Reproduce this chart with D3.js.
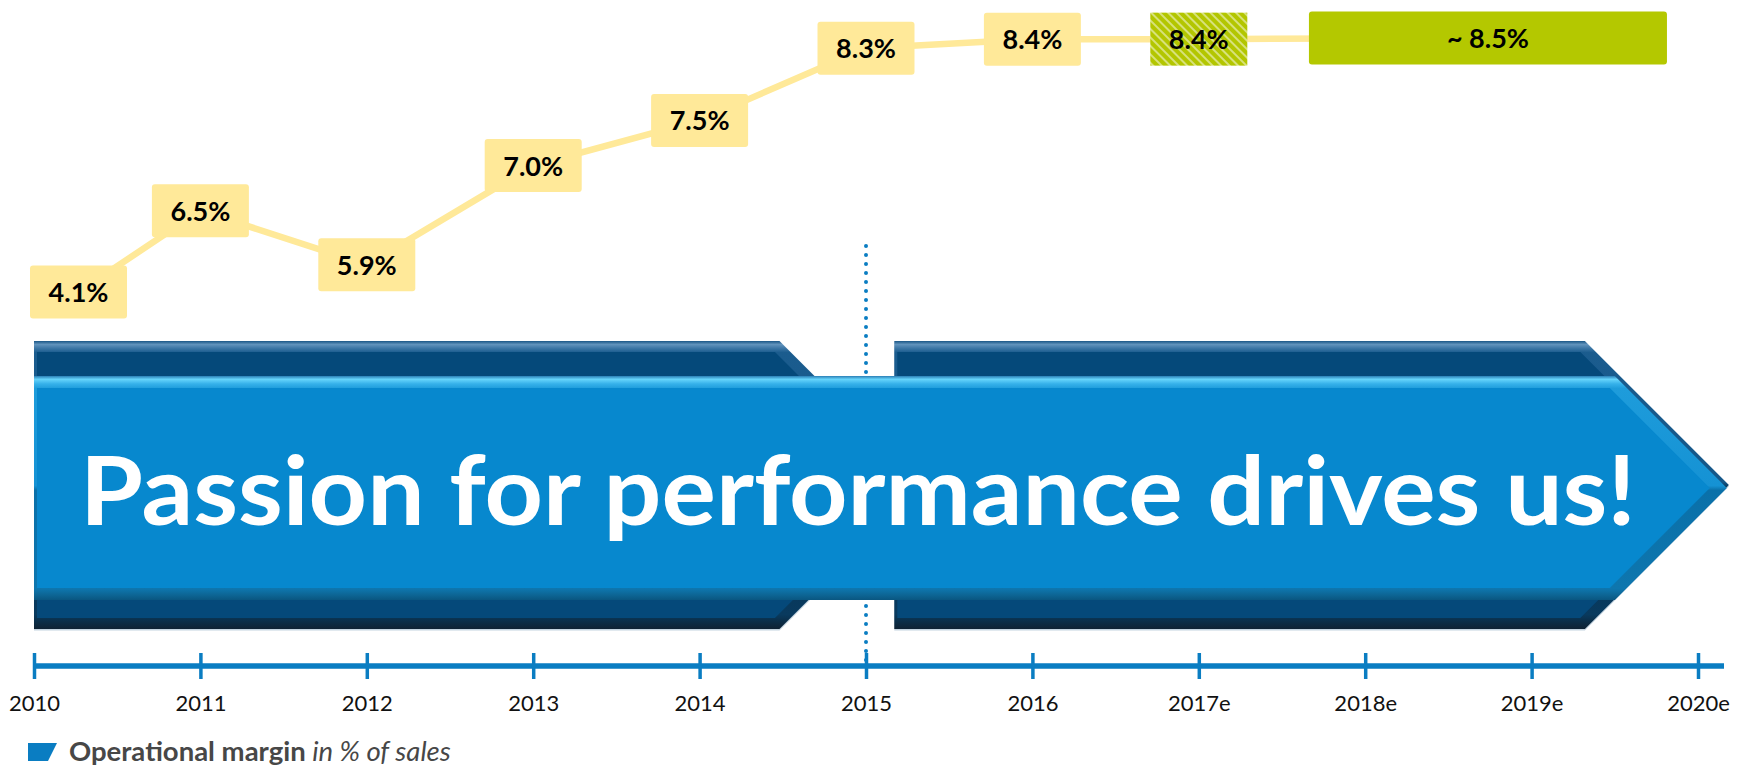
<!DOCTYPE html>
<html>
<head>
<meta charset="utf-8">
<script src="https://cdn.jsdelivr.net/npm/d3@7"></script>
<style>
  body { margin: 0; background: #fff; }
  svg { display: block; font-family: Lato, "Open Sans", sans-serif; }
</style>
</head>
<body>
<svg id="chart" width="1745" height="767"></svg>
<script>
// timeline categories
const years = ["2010", "2011", "2012", "2013", "2014", "2015", "2016", "2017e", "2018e", "2019e", "2020e"];

// operational margin in % of sales (2017e is an estimate -> hatched)
const marginYears = ["2010", "2011", "2012", "2013", "2014", "2015", "2016", "2017e"];
const marginValues = [4.1, 6.5, 5.9, 7.0, 7.5, 8.3, 8.4, 8.4];
const marginKind = ["actual", "actual", "actual", "actual", "actual", "actual", "actual", "estimate"];

// mid-term target
const targetYears = ["2018e", "2020e"];
const targetValue = 8.5;
const targetLabel = "~ 8.5%";

const headline = "Passion for performance drives us!";
const legendName = "Operational margin";
const legendUnit = "in % of sales";

const svg = d3.select("#chart");

const x = d3.scalePoint().domain(years).range([34, 1698]);
// index scale for things that sit between two years
const xi = d3.scaleLinear().domain([0, years.length - 1]).range(x.range());
const y = d3.scaleLinear().domain([5, 9]).range([346, -15]);

const axisY = 666;
const boxW = 97, boxH = 53;
const plotLeft = 30;      // boxes may not go left of this
const minCenterY = 38;    // keep boxes inside the top edge
const maxCenterY = 292;   // boxes must stay above the arrows

let defs = svg.append("defs");

// hatch for the estimate
let hatch = defs.append("pattern")
    .attr("id", "hatch")
    .attr("width", 6)
    .attr("height", 6)
    .attr("patternUnits", "userSpaceOnUse")
    .attr("patternTransform", "rotate(-45)");
hatch.append("rect").attr("width", 6).attr("height", 6).attr("fill", "#B3C600");
hatch.append("line")
    .attr("x1", 1).attr("y1", 0).attr("x2", 1).attr("y2", 6)
    .attr("stroke", "#DCE58A").attr("stroke-width", 1.8);

function gradient(id, stops) {
    let g = defs.append("linearGradient")
        .attr("id", id)
        .attr("x1", 0).attr("y1", 0).attr("x2", 0).attr("y2", 1);
    stops.forEach(function (s) {
        g.append("stop").attr("offset", s[0]).attr("stop-color", s[1]);
    });
}

gradient("darkBevel", [
    [0, "#1A5686"], [0.012, "#6193BC"], [0.025, "#3D77A6"], [0.04, "#1B5C8E"],
    [0.49, "#145789"], [0.51, "#043252"], [0.95, "#093A5E"], [0.975, "#0B2D47"], [1, "#0F2233"]
]);
gradient("frontBevel", [
    [0, "#2A7FB6"], [0.015, "#66D4FB"], [0.035, "#36B1EA"], [0.056, "#1E9CDB"],
    [0.49, "#1592D4"], [0.51, "#0A70A9"], [0.95, "#0E76AE"], [0.975, "#0D6797"], [1, "#0A5680"]
]);

function arrowPoints(x0, x1, y0, y1) {
    let half = (y1 - y0) / 2;
    return [[x0, y0], [x1, y0], [x1 + half, y0 + half], [x1, y1], [x0, y1]];
}

function drawArrow(g, x0, x1, y0, y1, inset, outerFill, innerFill, shadow) {
    let line = d3.line();
    if (shadow) {
        g.append("path")
            .attr("d", line(arrowPoints(x0, x1, y0 + 1.5, y1 + 1.5)) + "Z")
            .attr("fill", "#C3D3DF");
    }
    g.append("path")
        .attr("d", line(arrowPoints(x0, x1, y0, y1)) + "Z")
        .attr("fill", outerFill);
    g.append("path")
        .attr("d", line(arrowPoints(x0 + 3, x1 - 0.414 * inset, y0 + inset, y1 - inset)) + "Z")
        .attr("fill", innerFill);
}

//dotted separator at 2015
svg.append("line")
    .attr("x1", x("2015")).attr("x2", x("2015"))
    .attr("y1", 246).attr("y2", axisY)
    .attr("stroke", "#0A7DC2")
    .attr("stroke-width", 4)
    .attr("stroke-linecap", "round")
    .attr("stroke-dasharray", "0 9");

//phase arrows behind
let arrowsG = svg.append("g").attr("id", "arrowsG");
drawArrow(arrowsG, xi(0), xi(4.48), 341, 629, 11, "url(#darkBevel)", "#05497A", true);
drawArrow(arrowsG, xi(5.17), xi(9.32), 341, 629, 11, "url(#darkBevel)", "#05497A", true);
//front arrow
drawArrow(arrowsG, xi(0), xi(9.5), 376, 600, 12, "url(#frontBevel)", "#0788CE", false);

arrowsG.append("text")
    .attr("x", 80)
    .attr("y", 525)
    .attr("textLength", 1556)
    .attr("lengthAdjust", "spacingAndGlyphs")
    .attr("fill", "#fff")
    .attr("font-size", 96)
    .attr("font-weight", 700)
    .text(headline);

//margin boxes
let points = marginYears.map(function (yr, i) {
    let cy = y(marginValues[i]);
    return {
        year: yr,
        value: marginValues[i],
        kind: marginKind[i],
        cx: Math.max(x(yr), plotLeft + boxW / 2),
        cy: Math.max(minCenterY, Math.min(cy, maxCenterY))
    };
});

let target = {
    x0: x(targetYears[0]) - boxW * 0.58,
    x1: x(targetYears[1]) - boxW * 0.32,
    cy: Math.max(minCenterY, y(targetValue))
};

let linePts = points.map(function (d) { return [d.cx, d.cy]; });
linePts.push([(target.x0 + target.x1) / 2, target.cy]);

svg.append("path")
    .attr("d", d3.line()(linePts))
    .attr("fill", "none")
    .attr("stroke", "#FFE999")
    .attr("stroke-width", 6.5);

let boxG = svg.append("g").attr("id", "boxesG");
boxG.selectAll("rect.box")
    .data(points)
    .enter()
    .append("rect")
    .attr("class", "box")
    .attr("x", function (d) { return d.cx - boxW / 2; })
    .attr("y", function (d) { return d.cy - boxH / 2; })
    .attr("width", boxW)
    .attr("height", boxH)
    .attr("rx", function (d) { return d.kind === "estimate" ? 0 : 3; })
    .attr("fill", function (d) { return d.kind === "estimate" ? "url(#hatch)" : "#FFE999"; });

boxG.append("rect")
    .attr("x", target.x0)
    .attr("y", target.cy - boxH / 2)
    .attr("width", target.x1 - target.x0)
    .attr("height", boxH)
    .attr("rx", 3)
    .attr("fill", "#B4C800");

boxG.selectAll("text.val")
    .data(points)
    .enter()
    .append("text")
    .attr("class", "val")
    .attr("x", function (d) { return d.cx; })
    .attr("y", function (d) { return d.cy + 10; })
    .attr("text-anchor", "middle")
    .attr("font-size", 27)
    .attr("font-weight", 700)
    .attr("fill", "#000")
    .text(function (d) { return d3.format(".1f")(d.value) + "%"; });

boxG.append("text")
    .attr("x", (target.x0 + target.x1) / 2)
    .attr("y", target.cy + 10)
    .attr("text-anchor", "middle")
    .attr("font-size", 27)
    .attr("font-weight", 700)
    .attr("fill", "#000")
    .text(targetLabel);

//timeline axis
let axisG = svg.append("g")
    .attr("transform", "translate(0," + axisY + ")");
axisG.append("line")
    .attr("x1", x(years[0]))
    .attr("x2", x(years[years.length - 1]) + 26)
    .attr("stroke", "#0A7DC2")
    .attr("stroke-width", 5.5);
axisG.call(d3.axisBottom(x).tickSize(13).tickPadding(0));
axisG.select(".domain").remove();
axisG.selectAll(".tick line")
    .attr("y1", -13)
    .attr("y2", 13)
    .attr("stroke", "#0A7DC2")
    .attr("stroke-width", 3.5);
axisG.selectAll(".tick text")
    .attr("y", 45)
    .attr("dy", 0)
    .attr("font-size", 22)
    .attr("font-family", "Lato, sans-serif")
    .attr("fill", "#111");

//legend
let legendG = svg.append("g");
legendG.append("path")
    .attr("d", "M28,743 L57,743 L48,761 L28,761 Z")
    .attr("fill", "#0A7DC2");
let legendText = legendG.append("text")
    .attr("x", 69)
    .attr("y", 761)
    .attr("font-size", 27.5)
    .attr("fill", "#474747");
legendText.append("tspan").attr("font-weight", 700).text(legendName);
legendText.append("tspan").attr("font-style", "italic").text(" " + legendUnit);
</script>
</body>
</html>
